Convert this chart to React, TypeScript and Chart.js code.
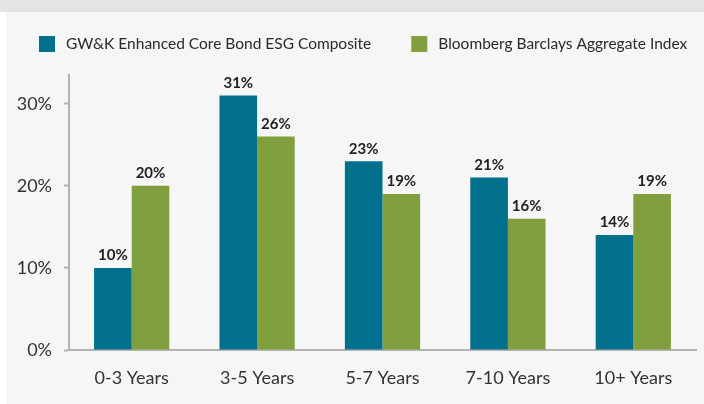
import React, { useEffect, useRef } from "react";
import { Chart, registerables } from "chart.js";

Chart.register(...registerables);

const categories = ["0-3 Years", "3-5 Years", "5-7 Years", "7-10 Years", "10+ Years"];
const seriesNames = ["GW&K Enhanced Core Bond ESG Composite", "Bloomberg Barclays Aggregate Index"];
const gwkValues = [10, 31, 23, 21, 14];
const bbValues = [20, 26, 19, 16, 19];
const yTicks = [0, 10, 20, 30];
const colors = ["#00708d", "#80a03f"];

const FONT = "Lato, 'Open Sans', sans-serif";

const bgPlugin = {
  id: "bg",
  beforeDraw(chart: any) {
    const { ctx, width, height } = chart;
    ctx.save();
    ctx.fillStyle = "#ffffff";
    ctx.fillRect(0, 0, width, height);
    ctx.fillStyle = "#e3e4e6";
    ctx.fillRect(0, 0, width, 12);
    ctx.fillStyle = "#f6f6f6";
    ctx.fillRect(6, 12, width - 6, height - 12);
    ctx.restore();
  },
};

const legendPlugin = {
  id: "customLegend",
  afterDraw(chart: any) {
    const { ctx } = chart;
    ctx.save();
    ctx.font = `15.5px ${FONT}`;
    ctx.textBaseline = "middle";
    let x = 39;
    const y = 44;
    chart.data.datasets.forEach((ds: any) => {
      ctx.fillStyle = ds.backgroundColor;
      ctx.fillRect(x, y - 8, 16, 16);
      ctx.fillStyle = "#2a2a2a";
      ctx.fillText(ds.label, x + 27, y);
      x += 27 + ctx.measureText(ds.label).width + 40;
    });
    ctx.restore();
  },
};

const valueLabelPlugin = {
  id: "valueLabels",
  afterDatasetsDraw(chart: any) {
    const { ctx } = chart;
    ctx.save();
    ctx.font = `bold 15px ${FONT}`;
    ctx.fillStyle = "#222";
    ctx.textAlign = "center";
    ctx.textBaseline = "bottom";
    chart.data.datasets.forEach((ds: any, di: number) => {
      const meta = chart.getDatasetMeta(di);
      meta.data.forEach((bar: any, i: number) => {
        ctx.fillText(`${ds.data[i]}%`, bar.x, bar.y - 5);
      });
    });
    ctx.restore();
  },
};

export default function App() {
  const ref = useRef<HTMLCanvasElement>(null);
  useEffect(() => {
    document.body.style.margin = "0";
    const chart = new Chart(ref.current!, {
      type: "bar",
      data: {
        labels: categories,
        datasets: [
          { label: seriesNames[0], data: gwkValues, backgroundColor: colors[0] },
          { label: seriesNames[1], data: bbValues, backgroundColor: colors[1] },
        ],
      },
      options: {
        animation: false,
        responsive: false,
        devicePixelRatio: 1,
        layout: { padding: { top: 75, right: 8, bottom: 8, left: 0 } },
        plugins: { legend: { display: false }, tooltip: { enabled: false } },
        datasets: { bar: { barPercentage: 1, categoryPercentage: 0.6 } },
        scales: {
          x: {
            grid: { display: false, drawTicks: false },
            border: { display: true, color: "#b3b3b5", width: 2 },
            ticks: { color: "#333", font: { size: 18, family: FONT }, padding: 17 },
            afterFit(scale: any) {
              scale.height = 46;
            },
          },
          y: {
            min: 0,
            max: 33.5,
            grid: { drawOnChartArea: false, drawTicks: true, tickLength: 5, tickColor: "#b3b3b5", tickWidth: 2 },
            border: { display: true, color: "#b3b3b5", width: 2 },
            ticks: {
              stepSize: 10,
              color: "#333",
              font: { size: 18, family: FONT },
              padding: 12,
              callback: (v: any) => `${v}%`,
            },
            afterBuildTicks(scale: any) {
              scale.ticks = yTicks.map((v) => ({ value: v }));
            },
            afterFit(scale: any) {
              scale.width = 69;
            },
          },
        },
      },
      plugins: [bgPlugin, legendPlugin, valueLabelPlugin],
    });
    return () => chart.destroy();
  }, []);
  return <canvas ref={ref} width={704} height={404} style={{ display: "block" }} />;
}
